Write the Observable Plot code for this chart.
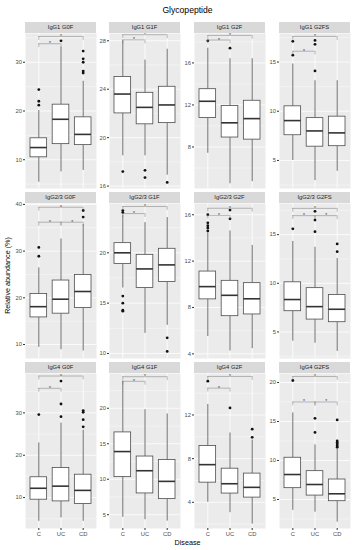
<!DOCTYPE html>
<html><head><meta charset="utf-8">
<script src="https://cdn.jsdelivr.net/npm/d3@7"></script>
<script src="https://cdn.jsdelivr.net/npm/@observablehq/plot@0.6"></script>
<style>
body{margin:0;background:#fff;font-family:"Liberation Sans",Arial,sans-serif;}
#chart{position:relative;width:356px;height:550px;overflow:hidden;background:#fff;}
.strip{position:absolute;background:#D9D9D9;color:#1A1A1A;font-size:5.8px;text-align:center;line-height:11px;height:11px;white-space:nowrap;}
.lab{position:absolute;color:#000;text-align:center;white-space:nowrap;}
</style></head><body><div id="chart"></div>
<script>
const panels = ["IgG1 G0F","IgG1 G1F","IgG1 G2F","IgG1 G2FS",
  "IgG2/3 G0F","IgG2/3 G1F","IgG2/3 G2F","IgG2/3 G2FS",
  "IgG4 G0F","IgG4 G1F","IgG4 G2F","IgG4 G2FS"];
const groups = ["C","UC","CD"];
const yDomains = [[4.1,35.9],[15.8,28.6],[4.05,18.8],[2.15,17.9],
  [7.0,40.2],[9.5,24.9],[3.6,16.97],[2.27,18.2],
  [2.7,39.3],[3.06,24.9],[1.6,15.8],[1.28,21.15]];
const yTicks = [[10,20,30],[16,20,24,28],[8,12,16],[5,10,15],
  [10,20,30,40],[10,15,20],[4,8,12,16],[5,10,15],
  [10,20,30],[5,10,15,20],[4,8,12],[5,10,15,20]];
const yMinor = [[5,15,25,35],[18,22,26],[6,10,14,18],[2.5,7.5,12.5,17.5],
  [15,25,35],[12.5,17.5,22.5],[6,10,14],[2.5,7.5,12.5,17.5],
  [5,15,25,35],[7.5,12.5,17.5,22.5],[2,6,10,14],[2.5,7.5,12.5,17.5]];
// per panel: [C, UC, CD]
const q1s = [[10.5,13.2,13.0],[22.0,21.1,21.2],[10.75,8.9,8.7],[7.56,6.4,6.45],
  [15.8,16.6,17.8],[18.9,16.5,17.1],[8.7,7.25,7.4],[7.13,6.27,6.0],
  [9.5,9.1,8.5],[10.3,8.0,7.2],[5.8,4.8,4.43],[6.45,5.5,4.78]];
const medians = [[12.5,18.3,15.2],[23.6,22.5,22.7],[12.35,10.3,10.7],[9.05,8.0,7.8],
  [18.1,19.7,21.35],[20.0,18.4,18.8],[9.8,9.05,8.75],[8.33,7.6,7.33],
  [12.2,12.7,11.7],[13.9,11.2,9.7],[7.45,5.7,5.37],[8.2,6.92,5.73]];
const q3s = [[14.4,21.3,18.7],[25.0,23.7,24.2],[13.5,11.9,12.4],[10.5,9.3,9.45],
  [20.8,23.7,24.9],[20.96,19.8,20.4],[11.1,10.3,10.1],[10.1,9.5,8.8],
  [14.8,17.0,15.4],[16.6,13.2,12.7],[9.15,7.08,6.63],[10.35,8.63,7.56]];
const whiskLo = [[5.4,7.5,7.8],[18.5,18.5,16.9],[7.4,4.5,4.7],[5.0,2.95,3.9],
  [9.4,8.9,8.6],[16.5,12.0,12.8],[5.5,4.25,4.45],[4.05,3.84,3.0],
  [4.4,5.2,4.4],[4.65,4.3,4.1],[4.0,3.05,2.0],[3.6,3.37,2.1]];
const whiskHi = [[20.1,33.1,26.1],[28.0,26.4,27.3],[17.4,16.4,16.4],[14.8,13.1,13.1],
  [26.4,32.6,35.7],[23.7,23.0,23.5],[14.4,14.6,13.35],[14.3,13.7,12.55],
  [22.9,27.6,25.9],[23.8,19.8,19.2],[12.97,10.35,9.7],[16.1,12.0,11.5]];
const outliers = [
  [[24.4,22.0,21.2],[34.4],[32.3,30.7,30.0,28.2,27.8]],
  [[17.2],[17.3,16.7],[16.3]],
  [[18.1],[17.4],[]],
  [[17.1,15.7],[17.2,16.8,14.1],[]],
  [[30.8,28.9],[],[38.7,37.3]],
  [[24.2,24.0,15.7,15.0,14.3,14.2],[],[11.55,10.2]],
  [[16.0,15.3,15.05,14.85,14.6],[16.4,15.65],[]],
  [[15.6],[17.4,16.5,15.3],[14.05,13.25]],
  [[29.6],[37.5,32.1,29.1],[30.55,30.15,28.4,26.7]],
  [[],[],[]],
  [[15.1],[12.65],[10.7,9.95]],
  [[20.25],[15.4,13.6],[15.2,12.5,12.3,12.1,11.9,11.7]]
];
// significance brackets: [from group, to group, y]
const brackets = [
  [["C","CD",35.3],["C","UC",33.8]],
  [["C","CD",28.5],["C","UC",28.07]],
  [["C","CD",18.62],["C","UC",18.18]],
  [["C","CD",17.6],["C","UC",16.1]],
  [["C","CD",39.4],["C","UC",36.2],["UC","CD",36.2]],
  [["C","CD",24.6],["C","UC",23.9]],
  [["C","CD",16.56],["C","UC",15.95]],
  [["C","CD",17.7],["C","UC",16.95],["UC","CD",16.95]],
  [["C","CD",38.7],["C","UC",35.8]],
  [["C","CD",24.45],["C","UC",23.8]],
  [["C","CD",15.53],["C","UC",14.46]],
  [["C","CD",20.77],["C","UC",17.5],["UC","CD",17.5]]
];

const chart = document.getElementById("chart");
const colLeft = [25,109,194,279], panelW = 71, rowTop = [33,203,373], panelH = 155, mL = 14, stripH = 11;
const boxHalf = 0.375;
const pos = g => groups.indexOf(g) + 1;

function addDiv(cls, text, css){
  const d = document.createElement("div");
  d.className = cls; d.textContent = text;
  Object.assign(d.style, css);
  chart.appendChild(d);
  return d;
}

addDiv("lab","Glycopeptide",{left:"25px",width:"325px",top:"5px",fontSize:"8.6px",lineHeight:"10px"});
addDiv("lab","Disease",{left:"25px",width:"325px",top:"538px",fontSize:"7.2px",lineHeight:"9px"});
addDiv("lab","Relative abundance (%)",{left:(7-100)+"px",top:(275-4.5)+"px",width:"200px",fontSize:"7.2px",lineHeight:"9px",transform:"rotate(-90deg)"});

panels.forEach((name, p) => {
  const col = p % 4, row = Math.floor(p / 4);
  const bottom = row === 2;
  const boxes = groups.map((g, i) => ({x: i + 1, q1: q1s[p][i], med: medians[p][i], q3: q3s[p][i], lo: whiskLo[p][i], hi: whiskHi[p][i]}));
  const pts = groups.flatMap((g, i) => outliers[p][i].map(v => ({x: i + 1, y: v})));
  const tipLen = 0.025 * (yDomains[p][1] - yDomains[p][0]);
  const br = brackets[p].map(([a, b, y]) => ({x1: pos(a), x2: pos(b), y, tip: y - tipLen}));
  const lineCol = "#4d4d4d";
  const svg = Plot.plot({
    width: panelW + mL,
    height: panelH + (bottom ? 14 : 0),
    marginLeft: mL, marginRight: 0, marginTop: 0, marginBottom: bottom ? 14 : 0,
    style: {background: "none", fontFamily: "Liberation Sans, Arial, sans-serif", fontSize: "5.8px", color: "#4D4D4D", overflow: "visible"},
    x: {domain: [0.4, 3.6], axis: null},
    y: {domain: yDomains[p], axis: null},
    marks: [
      Plot.frame({fill: "#EBEBEB", stroke: "none"}),
      Plot.ruleY(yMinor[p], {stroke: "white", strokeWidth: 0.4}),
      Plot.ruleY(yTicks[p], {stroke: "white", strokeWidth: 0.8}),
      Plot.ruleX([1, 2, 3], {stroke: "white", strokeWidth: 0.8}),
      Plot.axisY(yTicks[p], {tickSize: 2, tickPadding: 1.5, stroke: "#333", fill: "#4D4D4D", fontSize: 5.8, label: null}),
      bottom ? Plot.axisX([1, 2, 3], {tickFormat: i => groups[i - 1], tickSize: 2, tickPadding: 1.5, stroke: "#333", fill: "#4D4D4D", fontSize: 5.8, label: null}) : null,
      Plot.ruleX(boxes, {x: "x", y1: "lo", y2: "q1", stroke: lineCol, strokeWidth: 0.8}),
      Plot.ruleX(boxes, {x: "x", y1: "q3", y2: "hi", stroke: lineCol, strokeWidth: 0.8}),
      Plot.rect(boxes, {x1: d => d.x - boxHalf, x2: d => d.x + boxHalf, y1: "q1", y2: "q3", fill: "white", stroke: lineCol, strokeWidth: 0.8}),
      Plot.ruleY(boxes, {x1: d => d.x - boxHalf, x2: d => d.x + boxHalf, y: "med", stroke: "#333", strokeWidth: 1.6}),
      Plot.dot(pts, {x: "x", y: "y", r: 1.4, fill: "#111", stroke: "none"}),
      Plot.ruleY(br, {x1: "x1", x2: "x2", y: "y", stroke: "#777", strokeWidth: 0.5}),
      Plot.ruleX(br, {x: "x1", y1: "y", y2: "tip", stroke: "#777", strokeWidth: 0.5}),
      Plot.ruleX(br, {x: "x2", y1: "y", y2: "tip", stroke: "#777", strokeWidth: 0.5}),
      Plot.text(br, {x: d => (d.x1 + d.x2) / 2, y: "y", text: () => "*", fontSize: 5, lineAnchor: "bottom", dy: 1.5, fill: "#333"})
    ]
  });
  svg.style.position = "absolute";
  svg.style.left = (colLeft[col] - mL) + "px";
  svg.style.top = rowTop[row] + "px";
  chart.appendChild(svg);
  addDiv("strip", name, {left: colLeft[col] + "px", top: (rowTop[row] - stripH) + "px", width: panelW + "px"});
});
</script></body></html>
